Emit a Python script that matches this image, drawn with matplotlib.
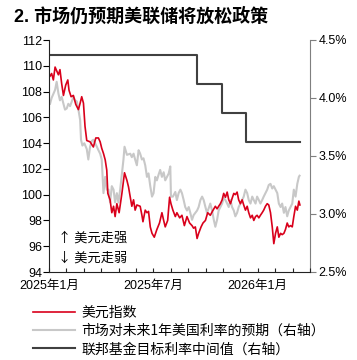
import matplotlib
matplotlib.use("Agg")
import matplotlib.pyplot as plt
from matplotlib.ticker import MultipleLocator, FuncFormatter

plt.rcParams['font.family'] = ['Liberation Sans', 'Noto Sans CJK SC', 'DejaVu Sans']

# === datos (x = meses desde 2025-01) ===
dxy_x = [0.06, 0.15, 0.25, 0.35, 0.54, 0.63, 0.73, 0.83, 0.96, 1.08, 1.15, 1.27, 1.40, 1.54,
         1.69, 1.79, 1.88, 1.98, 2.07, 2.17, 2.36, 2.55, 2.69, 2.84, 2.94, 3.03, 3.13, 3.23,
         3.32, 3.38, 3.51, 3.61, 3.71, 3.80, 3.90, 4.03, 4.19, 4.34, 4.48, 4.57, 4.67, 4.76,
         4.86, 4.95, 5.05, 5.24, 5.34, 5.40, 5.53, 5.63, 5.72, 5.82, 5.92, 6.05, 6.20, 6.35,
         6.49, 6.59, 6.68, 6.82, 6.93, 7.01, 7.12, 7.26, 7.35, 7.51, 7.64, 7.78, 7.93, 8.08,
         8.22, 8.31, 8.41, 8.51, 8.60, 8.74, 8.85, 8.99, 9.12, 9.27, 9.43, 9.56, 9.66, 9.75,
         9.85, 9.95, 10.04, 10.14, 10.24, 10.33, 10.43, 10.52, 10.62, 10.71, 10.81, 10.90,
         11.00, 11.10, 11.19, 11.29, 11.39, 11.48, 11.58, 11.68, 11.77, 11.87, 11.96, 12.06,
         12.15, 12.25, 12.34, 12.44, 12.54, 12.63, 12.73, 12.83, 12.92, 13.02, 13.12, 13.21,
         13.31, 13.40, 13.50, 13.59, 13.69, 13.78, 13.88, 13.98, 14.07, 14.17, 14.27, 14.36, 14.42]
dxy = [109.2, 109.4, 108.9, 109.9, 109.3, 109.7, 108.6, 107.7, 108.5, 108.9, 108.1, 107.6,
       107.7, 107.0, 106.6, 107.1, 107.6, 107.1, 105.3, 104.2, 104.1, 103.7, 104.4, 104.4,
       104.1, 103.6, 103.2, 102.7, 101.9, 100.1, 99.6, 98.6, 99.1, 98.3, 99.3, 98.6, 100.1,
       101.7, 101.1, 100.6, 99.8, 99.1, 99.6, 98.8, 99.2, 99.1, 98.4, 97.9, 98.8, 98.6, 98.7,
       97.5, 97.0, 96.7, 97.3, 97.8, 98.6, 98.0, 97.5, 98.0, 99.8, 99.3, 98.8, 98.3, 98.6,
       98.2, 98.4, 97.6, 98.3, 97.8, 97.6, 97.4, 97.5, 96.6, 97.0, 97.5, 97.8, 98.0, 98.6,
       98.4, 98.8, 99.1, 98.9, 99.1, 99.3, 99.6, 100.1, 99.8, 100.2, 99.6, 99.3, 99.7, 100.1,
       100.0, 100.2, 99.6, 99.3, 99.6, 99.2, 98.8, 99.1, 98.6, 98.2, 98.4, 98.0, 98.3, 98.4,
       98.2, 98.4, 98.6, 98.8, 99.1, 99.3, 99.2, 98.6, 97.5, 96.2, 97.0, 97.5, 96.7, 97.0,
       96.9, 97.0, 97.3, 97.8, 97.5, 97.6, 97.5, 98.3, 99.1, 98.8, 99.5, 99.2]

exp_x = [0.06, 0.15, 0.35, 0.44, 0.54, 0.63, 0.73, 0.83, 0.92, 1.02, 1.11, 1.21, 1.31, 1.40,
         1.50, 1.60, 1.69, 1.79, 1.84, 1.92, 2.03, 2.17, 2.26, 2.36, 2.46, 2.55, 2.65, 2.75,
         2.84, 2.94, 3.03, 3.13, 3.23, 3.32, 3.42, 3.51, 3.61, 3.71, 3.80, 3.90, 3.99, 4.09,
         4.28, 4.34, 4.48, 4.67, 4.76, 4.86, 4.95, 5.05, 5.15, 5.24, 5.34, 5.43, 5.53, 5.63,
         5.72, 5.82, 5.92, 6.01, 6.11, 6.20, 6.30, 6.39, 6.49, 6.59, 6.68, 6.78, 6.88, 6.97,
         7.01, 7.12, 7.26, 7.35, 7.45, 7.55, 7.64, 7.74, 7.83, 7.93, 8.03, 8.12, 8.22, 8.31,
         8.41, 8.51, 8.60, 8.70, 8.80, 8.89, 8.99, 9.08, 9.18, 9.27, 9.37, 9.47, 9.56, 9.66,
         9.75, 9.85, 9.95, 10.04, 10.14, 10.24, 10.33, 10.43, 10.52, 10.62, 10.71, 10.81,
         10.90, 11.00, 11.10, 11.19, 11.29, 11.39, 11.48, 11.58, 11.68, 11.77, 11.87, 11.96,
         12.06, 12.15, 12.25, 12.34, 12.44, 12.54, 12.63, 12.73, 12.83, 12.92, 13.02, 13.12,
         13.21, 13.31, 13.40, 13.50, 13.59, 13.69, 13.78, 13.88, 13.98, 14.07, 14.17, 14.27,
         14.36, 14.40]
expect = [3.95, 4.00, 4.07, 4.14, 4.04, 3.98, 4.01, 3.95, 3.90, 3.91, 3.95, 3.93, 3.97, 4.01,
          3.98, 3.97, 3.90, 3.81, 3.64, 3.59, 3.61, 3.56, 3.47, 3.58, 3.63, 3.64, 3.61, 3.58,
          3.55, 3.52, 3.47, 3.18, 3.32, 3.21, 3.21, 3.10, 3.24, 3.21, 3.10, 3.18, 3.10, 3.21,
          3.47, 3.58, 3.51, 3.52, 3.49, 3.52, 3.47, 3.42, 3.55, 3.52, 3.47, 3.48, 3.42, 3.32,
          3.35, 3.24, 3.15, 3.18, 3.32, 3.29, 3.34, 3.38, 3.32, 3.36, 3.29, 3.32, 3.35, 3.41,
          3.15, 3.15, 3.19, 3.12, 3.18, 3.21, 3.18, 3.12, 3.06, 3.03, 3.06, 3.01, 2.95, 2.99,
          3.01, 3.03, 3.06, 3.12, 3.15, 3.12, 3.06, 3.01, 3.05, 3.09, 3.03, 2.95, 2.89, 2.95,
          3.03, 3.06, 3.09, 3.14, 3.12, 3.09, 3.06, 3.12, 3.06, 3.03, 2.98, 3.01, 3.06, 3.09,
          3.12, 3.15, 3.21, 3.18, 3.12, 3.09, 3.15, 3.12, 3.09, 3.15, 3.12, 3.09, 3.12, 3.15,
          3.18, 3.21, 3.25, 3.26, 3.22, 3.24, 3.21, 3.18, 3.09, 3.06, 3.09, 3.01, 3.06, 2.98,
          3.03, 3.06, 3.09, 3.21, 3.15, 3.26, 3.32, 3.33]

fed_x = [0.0, 8.52, 9.96, 11.35, 14.40]
fed = [4.375, 4.125, 3.875, 3.625, 3.625]

xticks = [0, 6, 12]
xlabels = ["2025年1月", "2025年7月", "2026年1月"]

rojo = '#d9001b'
gris = '#c8c8c8'
negro = '#404040'

# === figura ===
fig = plt.figure(figsize=(3.57, 3.6), dpi=100)
ax = fig.add_axes([49 / 357, 1 - 272 / 360, (310 - 49) / 357, (272 - 40) / 360])
ax2 = ax.twinx()
ax.set_zorder(ax2.get_zorder() + 1)
ax.patch.set_visible(False)

l2, = ax2.plot(exp_x, expect, color=gris, lw=1.5)
l3, = ax2.step(fed_x, fed, where='post', color=negro, lw=1.5)
l1, = ax.plot(dxy_x, dxy, color=rojo, lw=1.2)

ax.set_xlim(0, 15)
ax.set_ylim(94, 112)
ax2.set_ylim(2.5, 4.5)
ax.yaxis.set_major_locator(MultipleLocator(2))
ax2.yaxis.set_major_locator(MultipleLocator(0.5))
ax2.yaxis.set_major_formatter(FuncFormatter(lambda v, p: f"{v:.1f}%"))
ax.set_xticks(xticks)
ax.set_xticklabels(xlabels)
ax.xaxis.set_minor_locator(MultipleLocator(1))

for a in (ax, ax2):
    a.spines['top'].set_visible(False)
ax.spines['right'].set_visible(False)
ax2.spines['left'].set_visible(False)
ax2.spines['bottom'].set_visible(False)
ax2.spines['right'].set_color('#7f7f7f')
ax.spines['left'].set_color('#222222')
ax.spines['bottom'].set_color('#222222')

ax.tick_params(axis='x', which='both', direction='in', length=3, width=0.8,
               labelsize=9, pad=6, color='#222222')
ax.tick_params(axis='y', direction='out', length=4, width=0.8, labelsize=9, pad=1)
ax2.tick_params(axis='y', direction='out', length=4, width=0.8, labelsize=9,
                pad=2, color='#7f7f7f')

ax.text(0.5, 96.6, "↑ 美元走强", fontsize=9.5, va='center',
        family=['Noto Sans CJK SC', 'DejaVu Sans'])
ax.text(0.5, 95.1, "↓ 美元走弱", fontsize=9.5, va='center',
        family=['Noto Sans CJK SC', 'DejaVu Sans'])

fig.text(14 / 357, 1 - 17 / 360, "2. 市场仍预期美联储将放松政策", fontsize=13,
         fontweight='bold', va='center', family=['Liberation Sans', 'Noto Sans CJK SC'])

leg = fig.legend([l1, l2, l3],
                 ["美元指数", "市场对未来1年美国利率的预期（右轴）", "联邦基金目标利率中间值（右轴）"],
                 loc='upper left', bbox_to_anchor=(33 / 357, 1 - 306 / 360), frameon=False,
                 handlelength=3.0, handletextpad=0.5, labelspacing=0.3,
                 borderpad=0, borderaxespad=0,
                 prop={'family': ['Noto Sans CJK SC', 'DejaVu Sans'], 'size': 10})

fig.savefig("out.png", dpi=100)
